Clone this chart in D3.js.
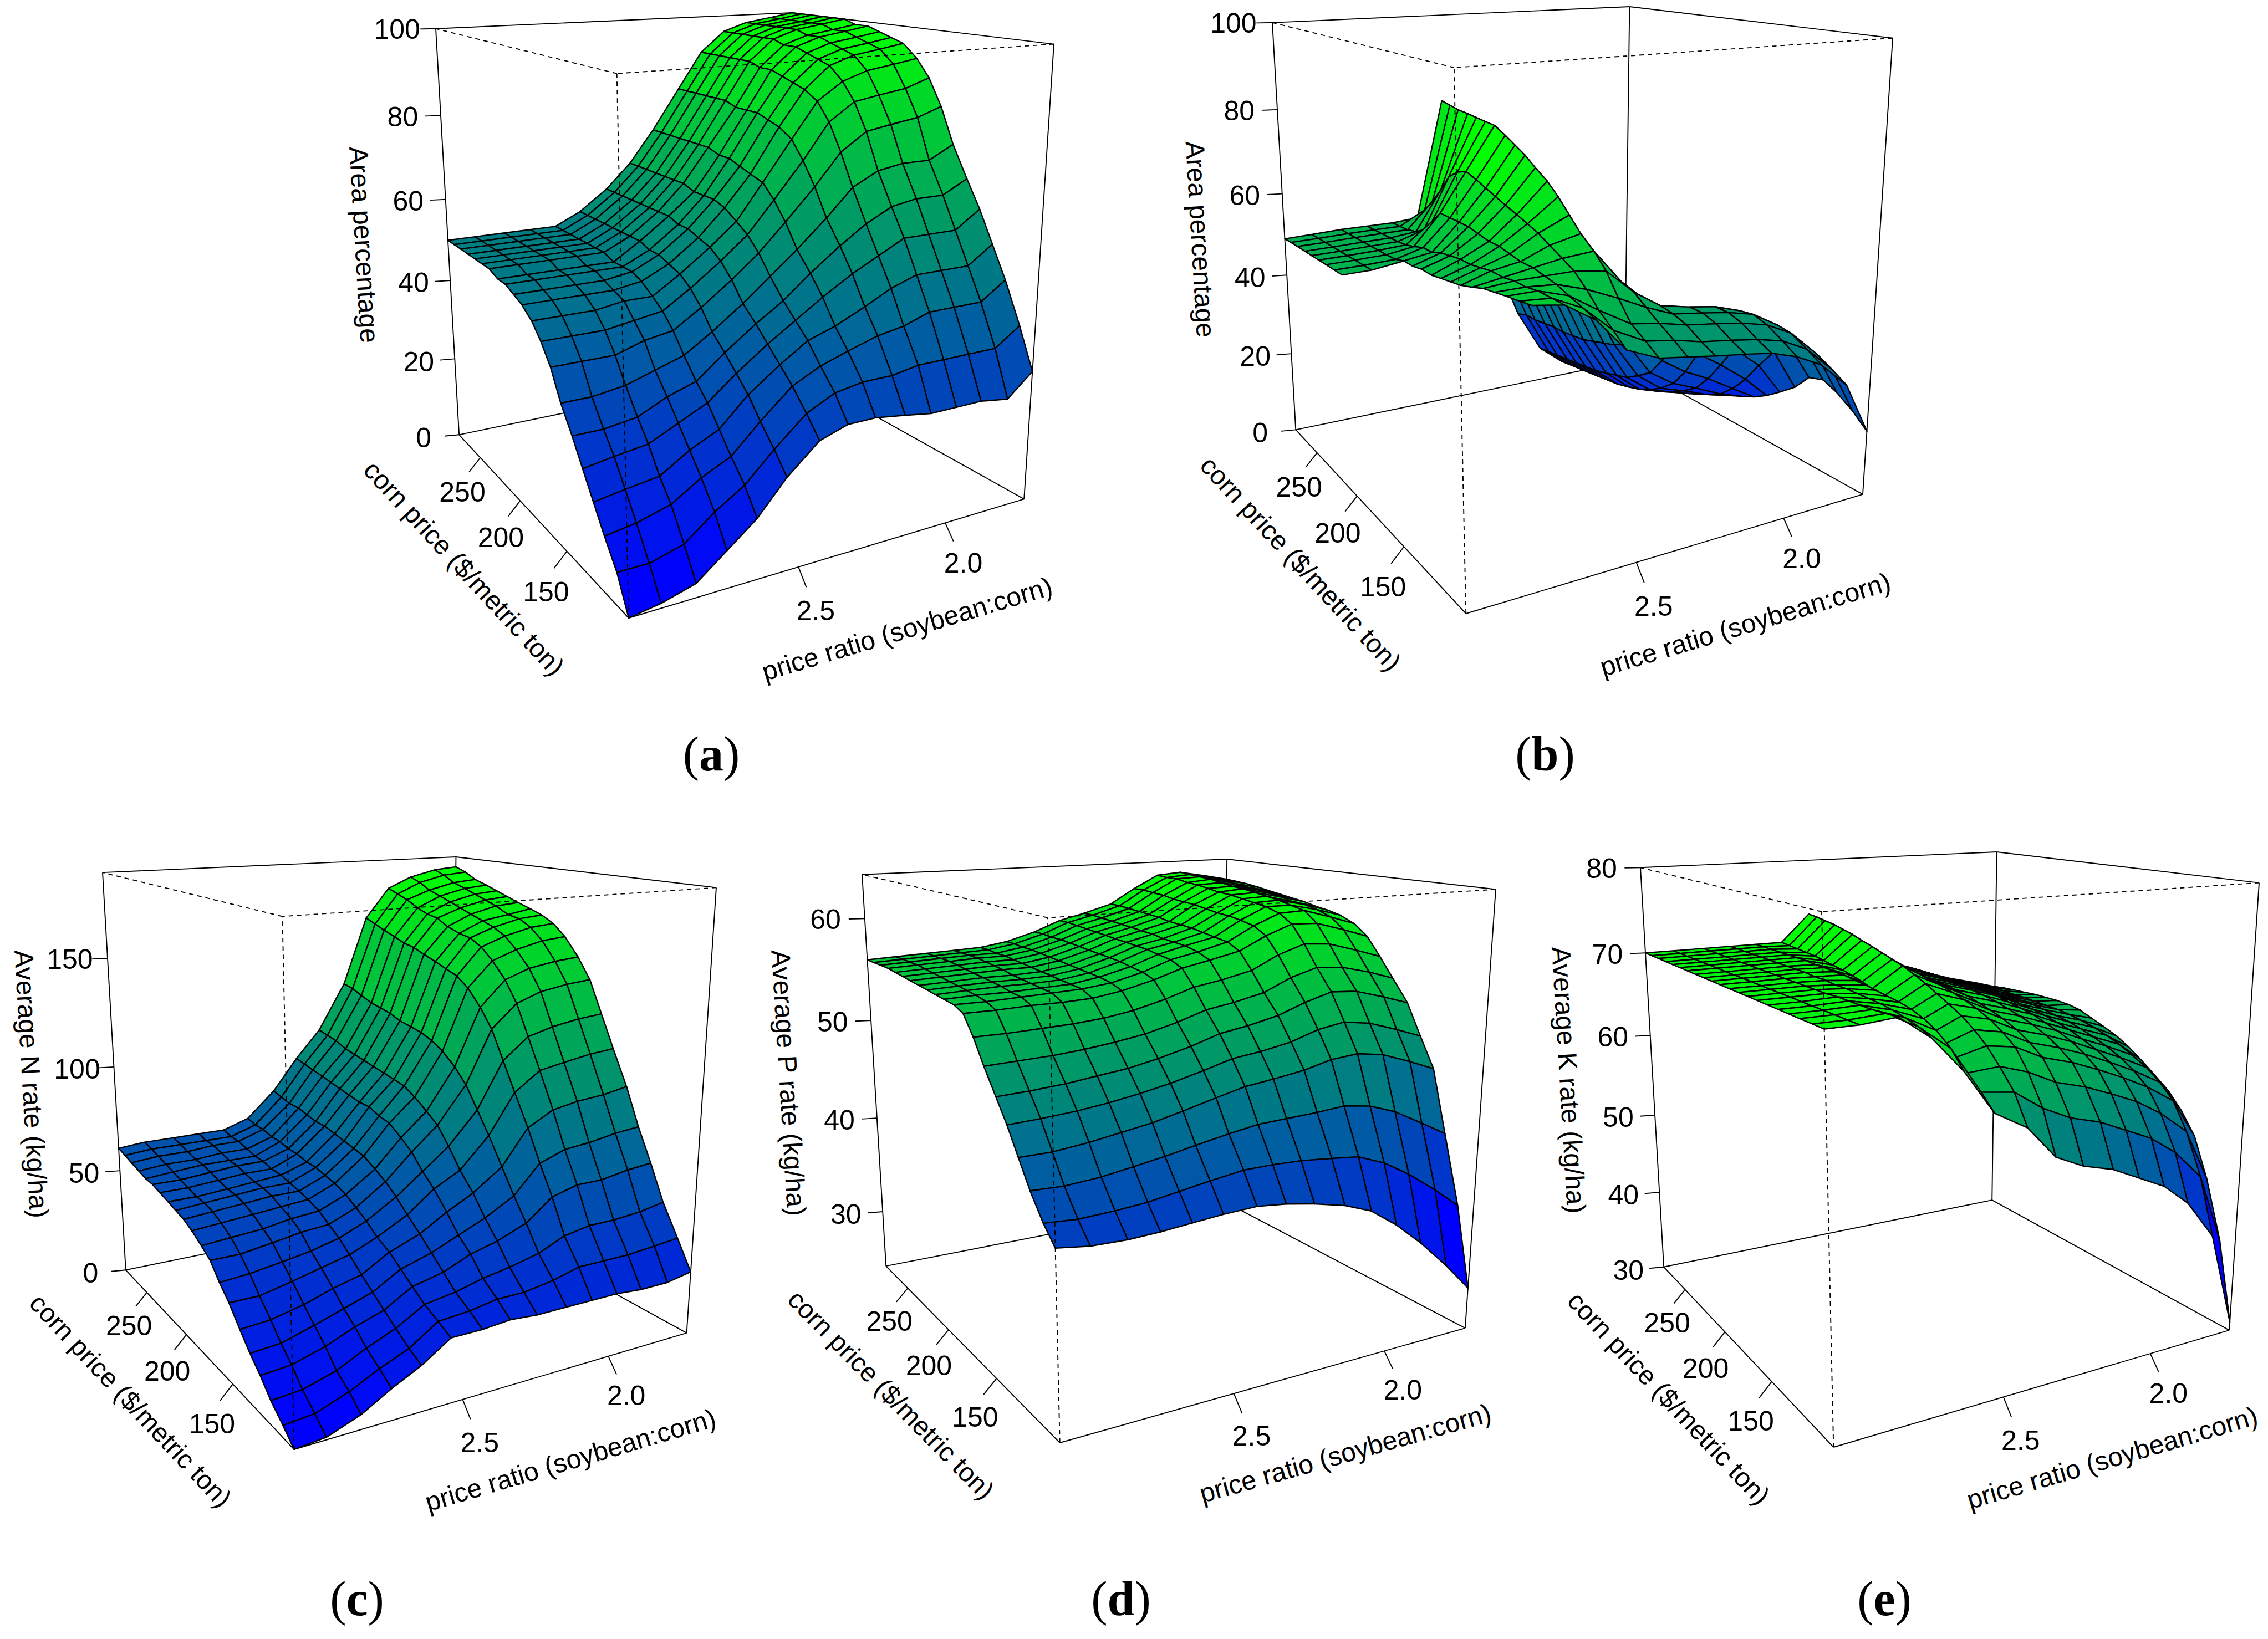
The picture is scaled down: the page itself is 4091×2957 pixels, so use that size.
<!DOCTYPE html>
<html>
<head>
<meta charset="utf-8">
<title>Response surfaces</title>
<script src="https://cdn.jsdelivr.net/npm/d3@7/dist/d3.min.js"></script>
<style>
  html, body { margin: 0; padding: 0; background: #fff; }
  svg { display: block; }
  .tick-label, .axis-title { font-family: "Liberation Sans", Arial, Helvetica, sans-serif; fill: #000; }
  .tick-label { font-size: 50px; }
  .axis-title { font-size: 48px; }
  .panel-tag { font-family: "Liberation Serif", "Times New Roman", serif; font-size: 88px; fill: #000; }
</style>
</head>
<body>
<svg id="chart" width="4091" height="2957"></svg>
<script>
// grid of the surfaces: rows = corn price, columns = price ratio
const cornPrice = [95, 104, 114, 123, 132, 141, 151, 160, 169, 178, 188, 197, 206, 215, 225, 234, 243, 252, 262, 271, 280];
const priceRatio = [1.70, 1.79, 1.89, 1.98, 2.07, 2.16, 2.26, 2.35, 2.44, 2.54, 2.63, 2.72, 2.81, 2.91, 3.00];

const cornTicks = [150, 200, 250];
const ratioTicks = [2.0, 2.5];
const areaTicks = [0, 20, 40, 60, 80, 100];
const nTicks = [0, 50, 100, 150];
const pTicks = [30, 40, 50, 60];
const kTicks = [30, 40, 50, 60, 70, 80];

// (a) corn area percentage
const areaCorn = [
  [30, 25, 26, 26, 26, 27, 28, 28, 26, 20, 13, 8, 3, 1, 0],
  [39, 35, 35, 35, 35, 34, 34, 33, 30, 24, 18, 14, 9, 7, 7],
  [48, 44, 44, 44, 42, 41, 39, 37, 34, 28, 22, 19, 15, 13, 12],
  [55, 51, 51, 51, 49, 46, 43, 41, 37, 32, 26, 23, 19, 18, 17],
  [62, 58, 58, 58, 55, 52, 48, 44, 40, 35, 30, 27, 24, 23, 22],
  [68, 65, 65, 64, 61, 57, 52, 47, 43, 38, 33, 31, 28, 27, 27],
  [75, 72, 72, 71, 68, 62, 56, 51, 46, 41, 37, 35, 33, 32, 32],
  [83, 81, 80, 79, 75, 68, 61, 55, 50, 45, 41, 40, 38, 38, 38],
  [89, 87, 86, 85, 81, 73, 65, 58, 53, 48, 44, 43, 42, 42, 42],
  [93, 92, 91, 89, 85, 77, 68, 60, 55, 50, 46, 46, 45, 45, 45],
  [96, 95, 94, 92, 87, 79, 69, 62, 56, 51, 48, 47, 47, 47, 47],
  [97, 96, 95, 93, 88, 80, 70, 63, 57, 52, 49, 48, 48, 48, 48],
  [98, 97, 96, 94, 89, 81, 71, 63, 57, 52, 49, 49, 49, 49, 49],
  [99, 98, 97, 95, 90, 81, 71, 63, 58, 53, 49, 49, 49, 49, 49],
  [99, 98, 97, 95, 90, 81, 72, 64, 58, 53, 50, 50, 50, 50, 50],
  [100, 99, 98, 96, 91, 82, 72, 64, 58, 53, 50, 50, 50, 50, 50],
  [100, 99, 98, 96, 91, 82, 72, 64, 58, 53, 50, 50, 50, 50, 50],
  [100, 99, 98, 96, 91, 82, 72, 64, 58, 53, 50, 50, 50, 50, 50],
  [100, 99, 98, 96, 91, 82, 72, 64, 58, 53, 50, 50, 50, 50, 50],
  [100, 99, 98, 96, 91, 82, 72, 64, 58, 53, 50, 50, 50, 50, 50],
  [100, 99, 98, 96, 91, 82, 72, 64, 58, 53, 50, 50, 50, 50, 50]
];

// (b) second area percentage surface (null = no value)
const areaSoy = [
  [15, 27, 33, 36, 38, 39, 40, 41, 42, 45, 52, 56, 57, null, null],
  [18, 29, 35, 38, 39.5, 40.5, 41.5, 43, 44, 47.5, 53, 56, 56.5, null, null],
  [20.5, 31, 37, 40, 41.5, 42.5, 43.5, 45, 46, 50, 54, 56, 56, null, null],
  [22, 32, 37.5, 41, 42.5, 43.5, 44.5, 47, 50, 53, 55, 55.5, 55.5, null, null],
  [21, 30.5, 36.5, 40.5, 42.5, 43.5, 45, 49, 54.5, 55.5, 55.5, 55.5, 55, null, null],
  [17, 27, 33, 37.5, 40, 41.5, 44.5, 50, 57.5, 57, 56, 55, 54, null, null],
  [14, 22, 27.5, 32, 35, 38.5, 43, 50, 60, 58.5, 56, 55, 53, null, null],
  [11.5, 17, 22, 26, 30, 35, 43, 52, 63, 60, 56.5, 54.5, 52.5, null, null],
  [9.5, 13, 17, 20, 24, 31, 42, 53, 66, 61, 57, 54, 52, null, null],
  [8, 10, 13, 15.5, 19.5, 28, 41, 54, 68.5, 62, 57, 54, 51.5, null, null],
  [6.4, 8, 10.5, 12.5, 17, 26, 40, 55, 70.5, 63, 57.5, 53.5, 51.5, null, null],
  [5.5, 6.5, 8.5, 10.5, 15, 25, 39, 56, 72.5, 64, 58, 53, 51, null, null],
  [4.6, 5.5, 7, 9, 14, 24, 38.5, 57, 74, 65, 58, 52, 51, 50, 49.9],
  [3.8, 4.5, 6, 8, 13, 23, 38, 58, 75.5, 66, 58, 52, 50.2, 49.9, 49.8],
  [3, 3.5, 5, 7, 12, 22.5, 38, 59, 77, 67, 58, 51, 50, 49.8, 49.7],
  [2.4, 3, 4.5, 6.5, 11.5, 22, 38, 60, 77.2, 66, 55, 50.3, 49.9, 49.7, 49.6],
  [1.8, 2.5, 4, 6, 11, 22, 38, 61, 77.5, 64, 52, 50, 49.8, 49.6, 49.5],
  [1.2, 2, 3.5, 5.5, 10.5, 21.5, 38, 62, 77.8, 60, 50.5, 49.8, 49.7, 49.5, 49.4],
  [0.6, 1.5, 3, 5, 10, 21, 38, 63, 78, 56, 49.8, 49.7, 49.6, 49.4, 49.3],
  [0.3, 1.2, 2.5, 4.5, 9.5, 21, 38, 64, 78.5, 53, 49.6, 49.6, 49.5, 49.3, 49.2],
  [0, 1, 2, 4, 9, 20, 38, 65, 79, 50, 49.5, 49.5, 49.5, 49.2, 49]
];

// (c) average N rate (kg/ha)
const rateN = [
  [28, 26, 26, 27, 27, 27, 27, 28, 27, 27, 19, 13, 6, 1, 0],
  [40, 39, 38, 38, 38, 35, 33, 33, 31, 30, 22, 17, 11, 6, 5],
  [53, 51, 50, 50, 48, 43, 40, 38, 35, 33, 26, 21, 15, 11, 10],
  [68, 67, 65, 65, 62, 53, 48, 45, 40, 37, 30, 26, 21, 17, 16],
  [82, 81, 79, 78, 74, 62, 55, 50, 45, 41, 34, 30, 26, 22, 21],
  [98, 96, 95, 93, 87, 72, 63, 57, 50, 45, 38, 35, 31, 28, 27],
  [113, 112, 110, 108, 100, 83, 70, 64, 55, 48, 43, 40, 37, 34, 34],
  [127, 126, 124, 121, 112, 92, 78, 69, 60, 52, 47, 44, 42, 40, 39],
  [141, 140, 138, 134, 124, 101, 85, 75, 64, 55, 50, 49, 47, 45, 45],
  [150, 149, 147, 143, 132, 107, 89, 79, 67, 58, 53, 52, 50, 49, 48],
  [158, 157, 154, 150, 139, 112, 93, 83, 70, 60, 55, 54, 53, 52, 51],
  [163, 162, 159, 155, 143, 115, 96, 84, 71, 61, 56, 56, 55, 54, 53],
  [166, 165, 162, 158, 145, 117, 97, 86, 72, 62, 57, 57, 56, 55, 54],
  [168, 166, 164, 159, 147, 118, 98, 86, 73, 62, 58, 57, 56, 55, 55],
  [170, 169, 166, 161, 149, 119, 99, 87, 74, 63, 58, 58, 57, 56, 56],
  [172, 171, 168, 164, 151, 121, 100, 88, 74, 63, 59, 59, 58, 57, 57],
  [174, 173, 170, 165, 152, 122, 101, 89, 75, 64, 59, 59, 59, 58, 57],
  [176, 175, 172, 167, 154, 123, 102, 90, 76, 64, 60, 60, 59, 59, 58],
  [178, 177, 174, 170, 156, 125, 104, 91, 76, 65, 61, 61, 60, 60, 59],
  [181, 180, 177, 172, 158, 127, 105, 92, 77, 65, 61, 61, 61, 61, 60],
  [183, 182, 179, 174, 160, 128, 106, 93, 78, 66, 62, 62, 62, 62, 61]
];

// (d) average P rate (kg/ha)
const rateP = [
  [28.0, 30.8, 33.6, 35.8, 37.6, 38.6, 39.3, 39.8, 40.1, 40.0, 39.8, 39.6, 39.5, 39.6, 40.0],
  [35.4, 37.4, 39.4, 40.9, 41.9, 42.2, 42.5, 42.6, 42.6, 42.2, 41.8, 41.4, 41.2, 41.1, 41.3],
  [41.7, 43.1, 44.6, 45.5, 45.9, 45.7, 45.6, 45.5, 45.1, 44.6, 44.1, 43.7, 43.3, 43.1, 43.2],
  [47.4, 48.4, 49.4, 49.8, 49.6, 49.0, 48.6, 48.3, 47.7, 47.0, 46.4, 46.0, 45.6, 45.3, 45.3],
  [50.1, 51.0, 51.9, 52.3, 51.9, 51.1, 50.6, 50.3, 49.6, 48.9, 48.4, 48.0, 47.7, 47.5, 47.4],
  [52.9, 53.7, 54.5, 54.7, 54.0, 53.1, 52.5, 52.1, 51.3, 50.6, 50.1, 49.8, 49.5, 49.3, 49.2],
  [54.9, 55.7, 56.4, 56.6, 55.9, 54.8, 54.2, 53.8, 53.0, 52.3, 51.9, 51.6, 51.4, 51.3, 51.2],
  [56.7, 57.5, 58.3, 58.5, 57.7, 56.5, 55.9, 55.5, 54.7, 54.0, 53.6, 53.4, 53.3, 53.2, 53.2],
  [58.4, 59.2, 60.0, 60.1, 59.2, 58.0, 57.4, 56.9, 56.1, 55.4, 55.0, 54.9, 54.9, 54.8, 54.8],
  [59.4, 60.2, 61.0, 60.9, 59.9, 58.6, 57.9, 57.4, 56.5, 55.8, 55.5, 55.4, 55.3, 55.2, 55.2],
  [60.0, 60.7, 61.3, 61.3, 60.2, 58.8, 58.2, 57.6, 56.7, 56.0, 55.6, 55.5, 55.4, 55.4, 55.3],
  [60.3, 61.0, 61.6, 61.5, 60.4, 59.0, 58.3, 57.8, 56.9, 56.1, 55.7, 55.6, 55.6, 55.5, 55.4],
  [60.5, 61.1, 61.8, 61.7, 60.5, 59.2, 58.4, 57.9, 57.0, 56.2, 55.8, 55.7, 55.7, 55.6, 55.5],
  [60.8, 61.4, 62.0, 61.9, 60.7, 59.3, 58.6, 58.0, 57.1, 56.3, 55.9, 55.8, 55.8, 55.7, 55.6],
  [61.0, 61.6, 62.2, 62.0, 60.9, 59.4, 58.7, 58.1, 57.2, 56.4, 56.0, 56.0, 55.9, 55.8, 55.7],
  [61.2, 61.8, 62.3, 62.2, 61.0, 59.6, 58.8, 58.2, 57.3, 56.5, 56.1, 56.1, 56.0, 55.9, 55.8],
  [61.4, 61.9, 62.5, 62.4, 61.1, 59.7, 58.9, 58.3, 57.4, 56.6, 56.2, 56.2, 56.1, 56.0, 55.9],
  [61.6, 62.1, 62.7, 62.5, 61.3, 59.8, 59.0, 58.4, 57.5, 56.7, 56.3, 56.3, 56.2, 56.1, 56.0],
  [61.8, 62.3, 62.8, 62.7, 61.4, 59.9, 59.1, 58.5, 57.5, 56.7, 56.3, 56.3, 56.2, 56.1, 56.0],
  [61.9, 62.4, 62.9, 62.7, 61.5, 60.0, 59.2, 58.6, 57.6, 56.8, 56.4, 56.3, 56.2, 56.1, 56.0],
  [62.0, 62.5, 63.0, 62.8, 61.5, 60.0, 59.2, 58.6, 57.6, 56.8, 56.4, 56.3, 56.2, 56.1, 56.0]
];

// (e) average K rate (kg/ha)
const rateK = [
  [31, 42, 46.5, 49, 50.5, 52, 53, 54.5, 58, 60, 64.5, 68, 70.3, 70, 70],
  [40, 48.1, 51.5, 53.6, 55, 56.4, 57.4, 58.9, 61, 61.5, 66.2, 68.6, 70.2, 70, 70],
  [46.5, 52.6, 55.2, 57, 58.3, 59.5, 60.5, 62, 63, 62.8, 67.4, 69, 70.1, 70, 70],
  [50.9, 55.5, 57.6, 59.1, 60.4, 61.6, 62.6, 64.1, 64.6, 63.8, 68.1, 69.3, 70.1, 70, 70],
  [53.3, 57.1, 58.9, 60.3, 61.6, 62.7, 63.7, 65.2, 65.8, 64.6, 68.6, 69.5, 70.1, 70, 70],
  [55.1, 58.3, 59.9, 61.2, 62.5, 63.6, 64.6, 66.1, 66.8, 65.3, 68.9, 69.6, 70.1, 70, 70],
  [56.5, 59.2, 60.7, 61.9, 63.2, 64.3, 65.3, 66.8, 67.6, 66, 69.1, 69.7, 70, 70, 70],
  [57.7, 60, 61.3, 62.5, 63.7, 64.8, 65.8, 67.3, 68.3, 66.6, 69.3, 69.8, 70, 70, 70],
  [58.8, 60.6, 61.8, 62.9, 64.2, 65.2, 66.2, 67.7, 69, 67.1, 69.5, 69.8, 70, 70, 70],
  [59.7, 61.1, 62.2, 63.3, 64.5, 65.6, 66.6, 68.1, 69.6, 67.6, 69.6, 69.9, 70, 70, 70],
  [60.4, 61.5, 62.5, 63.6, 64.8, 65.9, 66.9, 68.4, 70.2, 68, 69.8, 69.9, 70, 70, 70],
  [61, 61.8, 62.8, 63.8, 65.1, 66.1, 67.1, 68.6, 70.6, 68.4, 69.8, 70, 70, 70, 70],
  [61.6, 62, 63, 64, 65.2, 66.2, 67.2, 68.7, 71, 68.7, 69.9, 70, 70, 70, 70],
  [61.9, 62.1, 63.1, 64.1, 65.3, 66.3, 67.3, 68.8, 71.4, 69, 69.9, 70, 70, 70, 70],
  [62, 62.2, 63.2, 64.2, 65.4, 66.4, 67.4, 68.9, 71.8, 69.2, 70, 70, 70, 70, 70],
  [62, 62.3, 63.2, 64.2, 65.4, 66.4, 67.4, 68.9, 72.2, 69.4, 70, 70, 70, 70, 70],
  [62, 62.3, 63.3, 64.3, 65.5, 66.5, 67.5, 69, 72.5, 69.6, 70, 70, 70, 70, 70],
  [61.9, 62.4, 63.3, 64.3, 65.5, 66.5, 67.5, 69, 72.8, 69.7, 70, 70, 70, 70, 70],
  [61.8, 62.4, 63.3, 64.3, 65.5, 66.5, 67.5, 69, 73, 69.8, 70, 70, 70, 70, 70],
  [61.7, 62.4, 63.3, 64.3, 65.5, 66.5, 67.5, 69, 73.2, 69.9, 70, 70, 70, 70, 70],
  [61.5, 62.4, 63.3, 64.3, 65.5, 66.5, 67.5, 69, 73.3, 70, 70, 70, 70, 70, 70]
];

const panels = [
  { key: 'a', z: areaCorn, zlim: [0, 100], zTicks: areaTicks, zTitle: 'Area percentage', frame: [786, 23, 1901, 1115], tag: [1283, 1390] },
  { key: 'b', z: areaSoy, zlim: [0, 100], zTicks: areaTicks, zTitle: 'Area percentage', frame: [2295, 12, 3414, 1107], tag: [2787, 1390] },
  { key: 'c', z: rateN, zlim: [0, 188], zTicks: nTicks, zTitle: 'Average N rate (kg/ha)', frame: [185, 1546, 1292, 2615], tag: [644, 2914] },
  { key: 'd', z: rateP, zlim: [24, 64.2], zTicks: pTicks, zTitle: 'Average P rate (kg/ha)', frame: [1555, 1550, 2698, 2603], tag: [2022, 2914] },
  { key: 'e', z: rateK, zlim: [30, 80], zTicks: kTicks, zTitle: 'Average K rate (kg/ha)', frame: [2959, 1537, 4075, 2611], tag: [3399, 2914] }
];

const svg = d3.select('#chart');
const view = { theta: -120, phi: 15, dist: 5.8 };
const palette = d3.quantize(d3.interpolateRgb('#0000ff', '#00ff00'), 100);
const boxStroke = 1.9;
const meshStroke = 2.4;

// persp-like view transform on the [-1,1] cube
function projector(theta, phi, dist) {
  const t = theta * Math.PI / 180, f = phi * Math.PI / 180;
  const ct = Math.cos(t), st = Math.sin(t), cf = Math.cos(f), sf = Math.sin(f);
  return (x, y, z) => {
    const x1 = x * ct + y * st;
    const d1 = x * st - y * ct;
    const y2 = z * cf - d1 * sf;
    const d2 = z * sf + d1 * cf;
    const w = dist - d2;
    return [x1 / w, y2 / w, w];
  };
}
const proj = projector(view.theta, view.phi, view.dist);

const cx = d3.scaleLinear().domain(d3.extent(cornPrice)).range([-1, 1]);
const cy = d3.scaleLinear().domain(d3.extent(priceRatio)).range([-1, 1]);
const line = d3.line();

function drawPanel(p) {
  const cz = d3.scaleLinear().domain(p.zlim).range([-1, 1]);
  const corners = [];
  for (const a of [-1, 1]) for (const b of [-1, 1]) for (const c of [-1, 1]) corners.push(proj(a, b, c));
  const [x0, y0, x1, y1] = p.frame;
  const sxp = d3.scaleLinear().domain(d3.extent(corners, d => d[0])).range([x0, x1]);
  const syp = d3.scaleLinear().domain(d3.extent(corners, d => d[1])).range([y1, y0]);
  const S = (u, v, w) => { const q = proj(u, v, w); return [sxp(q[0]), syp(q[1])]; };
  const g = svg.append('g').attr('class', 'panel-' + p.key);

  // nearest vertical edge of the box
  let near = null;
  for (const a of [-1, 1]) for (const b of [-1, 1]) {
    const w = proj(a, b, 0)[2];
    if (!near || w < near.w) near = { a, b, w };
  }
  const na = near.a, nb = near.b;

  const edges = [];
  for (const b of [-1, 1]) for (const c of [-1, 1]) edges.push([[-1, b, c], [1, b, c]]);
  for (const a of [-1, 1]) for (const c of [-1, 1]) edges.push([[a, -1, c], [a, 1, c]]);
  for (const a of [-1, 1]) for (const b of [-1, 1]) edges.push([[a, b, -1], [a, b, 1]]);
  const frontEdge = e => e.some(v => v[0] === na && v[1] === nb && v[2] === 1);

  const back = g.append('g').attr('fill', 'none').attr('stroke', '#000').attr('stroke-width', boxStroke);
  back.selectAll('path').data(edges.filter(e => !frontEdge(e))).join('path')
    .attr('d', e => line(e.map(v => S(...v))));

  // axes with detailed ticks
  const ax = g.append('g');
  const tickLine = (a, b) => ax.append('path').attr('d', line([a, b]))
    .attr('stroke', '#000').attr('stroke-width', boxStroke).attr('fill', 'none');
  const label = (pt, txt, cls, angle) => ax.append('text').attr('class', cls)
    .attr('text-anchor', 'middle').attr('dominant-baseline', 'central')
    .attr('transform', `translate(${pt[0]},${pt[1]})` + (angle ? ` rotate(${angle})` : ''))
    .text(txt);
  const angleOf = (a, b) => Math.atan2(b[1] - a[1], b[0] - a[0]) * 180 / Math.PI;

  cornTicks.forEach(t => {
    const u = cx(t);
    tickLine(S(u, nb, -1), S(u, nb * 1.06, -1.06));
    label(S(u, nb * 1.10, -1.155), d3.format('d')(t), 'tick-label');
  });
  ratioTicks.forEach(t => {
    const v = cy(t);
    tickLine(S(na, v, -1), S(na * 1.06, v, -1.06));
    label(S(na * 1.13, v, -1.13), d3.format('.1f')(t), 'tick-label');
  });
  p.zTicks.forEach(t => {
    const w = cz(t);
    tickLine(S(-na, nb, w), S(-na * 1.02, nb * 1.07, w));
    label(S(-na * 1.05, nb * 1.17, w), d3.format('d')(t), 'tick-label');
  });

  label(S(-na * 1.12, nb * 1.38, 0), p.zTitle, 'axis-title', angleOf(S(-na, nb, 1), S(-na, nb, -1)));
  label(S(0, nb * 1.32, -1.18), 'corn price ($/metric ton)', 'axis-title', angleOf(S(-na, nb, -1), S(na, nb, -1)));
  label(S(na * 1.47, nb * 0.035, -1.09), 'price ratio (soybean:corn)', 'axis-title', angleOf(S(na, nb, -1), S(na, -nb, -1)));

  // surface facets, far to near
  const facets = [];
  for (let i = 0; i < cornPrice.length - 1; i++) {
    for (let j = 0; j < priceRatio.length - 1; j++) {
      const cells = [[i, j], [i + 1, j], [i + 1, j + 1], [i, j + 1]];
      const vals = cells.map(([a, b]) => p.z[a][b]);
      if (vals.some(v => v == null)) continue;
      const pts = cells.map(([a, b], k) => S(cx(cornPrice[a]), cy(priceRatio[b]), cz(vals[k])));
      const depth = d3.max(cells, ([a, b]) => proj(cx(cornPrice[a]), cy(priceRatio[b]), -1)[2]);
      facets.push({ pts, mean: d3.mean(vals), depth });
    }
  }
  facets.sort((a, b) => b.depth - a.depth);
  const color = d3.scaleQuantize().domain(d3.extent(facets, f => f.mean)).range(palette);
  g.append('g').attr('stroke', '#000').attr('stroke-width', meshStroke).attr('stroke-linejoin', 'round')
    .selectAll('path').data(facets).join('path')
    .attr('d', f => line(f.pts) + 'Z')
    .attr('fill', f => color(f.mean));

  // front box edges, dotted over the surface
  g.append('g').attr('fill', 'none').attr('stroke', '#000').attr('stroke-width', boxStroke)
    .attr('stroke-dasharray', '8,7')
    .selectAll('path').data(edges.filter(frontEdge)).join('path')
    .attr('d', e => line(e.map(v => S(...v))));

  const tag = g.append('text').attr('class', 'panel-tag')
    .attr('x', p.tag[0]).attr('y', p.tag[1]).attr('text-anchor', 'middle');
  tag.append('tspan').text('(');
  tag.append('tspan').attr('font-weight', 'bold').text(p.key);
  tag.append('tspan').text(')');
}

panels.forEach(drawPanel);
</script>
</body>
</html>
